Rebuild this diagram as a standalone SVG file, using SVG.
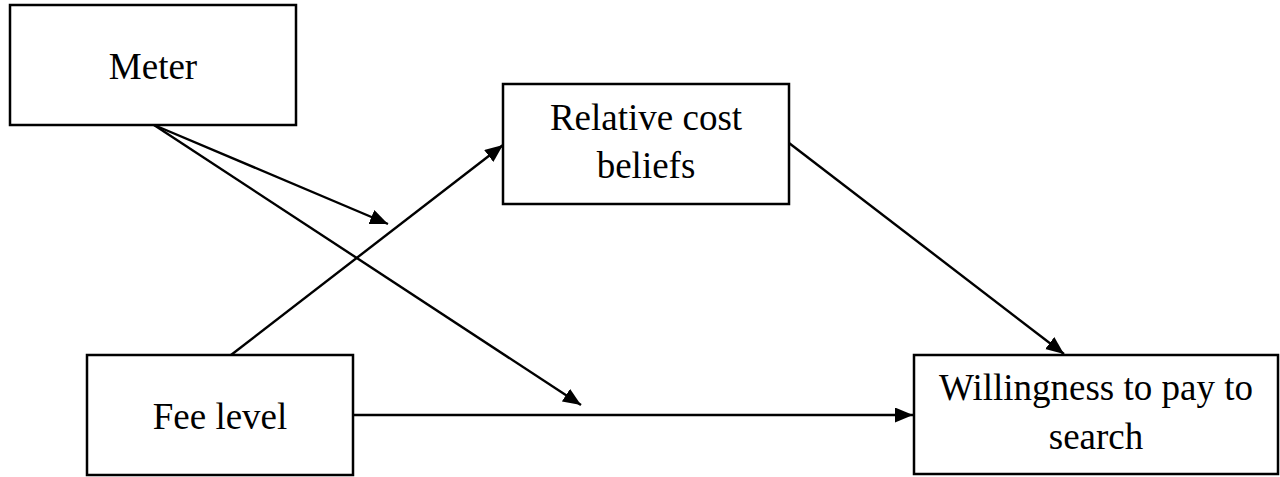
<svg xmlns="http://www.w3.org/2000/svg" width="1280" height="477" viewBox="0 0 1280 477">
<style>
.box{fill:#fff;stroke:#000;stroke-width:2.5}
.lbl{font-family:"Liberation Serif","Times New Roman",serif;font-size:37px;fill:#000;text-anchor:middle}
.edge{stroke:#000;stroke-width:2.4;fill:none;marker-end:url(#ah)}
</style>
<defs>
<marker id="ah" markerUnits="userSpaceOnUse" markerWidth="20" markerHeight="16" refX="18" refY="7.5" orient="auto">
<path d="M0,0 L18,7.5 L0,15 Z" fill="#000"/>
</marker>
</defs>
<rect width="1280" height="477" fill="#fff"/>
<g id="connectors">
<line class="edge" x1="154" y1="125" x2="388" y2="224"/>
<line class="edge" x1="154" y1="125" x2="581" y2="405"/>
<line class="edge" x1="231" y1="355" x2="503" y2="145"/>
<line class="edge" x1="789" y1="143" x2="1064" y2="354"/>
<line class="edge" x1="353" y1="415" x2="913" y2="415"/>
</g>
<g id="meter">
<rect class="box" x="10" y="5" width="286" height="120"/>
<text class="lbl" x="153" y="79">Meter</text>
</g>
<g id="relative-cost-beliefs">
<rect class="box" x="503" y="84" width="286" height="120"/>
<text class="lbl" x="646" y="130">Relative cost</text>
<text class="lbl" x="646" y="178">beliefs</text>
</g>
<g id="fee-level">
<rect class="box" x="87" y="355" width="266" height="120"/>
<text class="lbl" x="220" y="429">Fee level</text>
</g>
<g id="willingness">
<rect class="box" x="914" y="355" width="364" height="119"/>
<text class="lbl" x="1096" y="400">Willingness to pay to</text>
<text class="lbl" x="1096" y="449">search</text>
</g>
</svg>
